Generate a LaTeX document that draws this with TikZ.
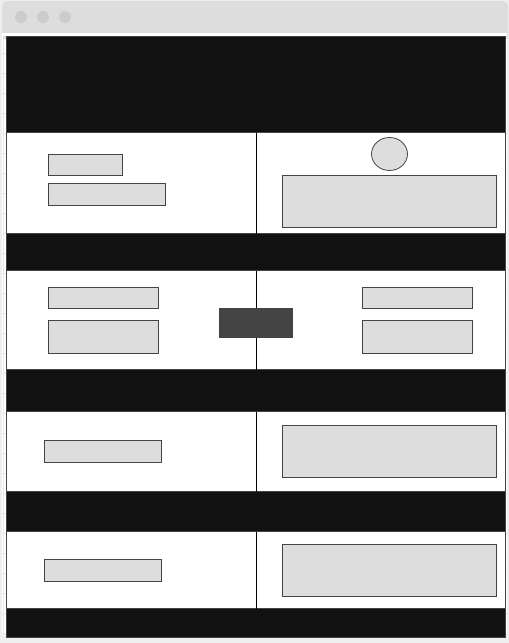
\documentclass[tikz,border=0pt]{standalone}
\usetikzlibrary{shapes.geometric}
\definecolor{pagebg}{HTML}{EEEEEE}
\definecolor{barbg}{HTML}{DDDDDD}
\definecolor{dotc}{HTML}{CCCCCC}
\definecolor{gridc}{HTML}{E8E8E8}
\definecolor{blk}{HTML}{111111}
\definecolor{edge}{HTML}{444444}
\definecolor{boxfill}{HTML}{DDDDDD}
\tikzset{
  px/.style={x=1pt,y=-1pt},
  box/.style={draw=edge, fill=boxfill, line width=1pt, inner sep=0pt, outer sep=0pt, anchor=north west},
  darkbox/.style={fill=edge, draw=none, inner sep=0pt, outer sep=0pt, anchor=north west},
  band/.style={fill=blk, draw=edge, line width=1pt},
  cell/.style={fill=white, draw=edge, line width=1pt},
  dot/.style={circle, fill=dotc, draw=none, minimum size=12pt, inner sep=0pt},
  oval/.style={ellipse, draw=edge, fill=boxfill, line width=0.8pt, minimum width=36pt, minimum height=33pt, inner sep=0pt},
  divider/.style={draw=black, line width=1pt}
}
\begin{document}
\begin{tikzpicture}[px]
\useasboundingbox (0,0) rectangle (509,643);
\fill[pagebg] (0,0) rectangle (509,643);
% window body
\fill[white] (2,33) rectangle (507,634);
% faint grid
\begin{scope}
\clip (2,33) rectangle (507,634);
\foreach \gx in {3,23,...,503} \draw[gridc, line width=0.6pt] (\gx,33) -- (\gx,634);
\foreach \gy in {33,53,...,633} \draw[gridc, line width=0.6pt] (2,\gy) -- (507,\gy);
\end{scope}
% title bar
\fill[barbg, rounded corners=5pt] (2,1) rectangle (508,40);
\fill[barbg] (2,25) rectangle (508,33);
\fill[white] (2,33) rectangle (507,36);
\node[dot] (d1) at (21,17) {};
\node[dot] (d2) at (43,17) {};
\node[dot] (d3) at (65,17) {};
% main frame
\draw[band] (6.5,36.5) rectangle (505.5,637.5);
% white rows
\draw[cell] (6.5,132.5) rectangle (505.5,233.5);
\draw[cell] (6.5,270.5) rectangle (505.5,369.5);
\draw[cell] (6.5,411.5) rectangle (505.5,491.5);
\draw[cell] (6.5,531.5) rectangle (505.5,608.5);
% vertical dividers
\coordinate (v1t) at (256.5,132.5); \coordinate (v1b) at (256.5,233.5);
\coordinate (v2t) at (256.5,270.5); \coordinate (v2b) at (256.5,369.5);
\coordinate (v3t) at (256.5,411.5); \coordinate (v3b) at (256.5,491.5);
\coordinate (v4t) at (256.5,531.5); \coordinate (v4b) at (256.5,608.5);
\draw[divider] (v1t) -- (v1b);
\draw[divider] (v2t) -- (v2b);
\draw[divider] (v3t) -- (v3b);
\draw[divider] (v4t) -- (v4b);
% row 1
\node[box, minimum width=74pt, minimum height=21pt] (r1a) at (48.5,154.5) {};
\node[box, minimum width=117pt, minimum height=22pt] (r1b) at (48.5,183.5) {};
\node[oval] (r1c) at (389.5,154) {};
\node[box, minimum width=214pt, minimum height=52pt] (r1d) at (282.5,175.5) {};
% row 2
\node[box, minimum width=110pt, minimum height=21pt] (r2a) at (48.5,287.5) {};
\node[box, minimum width=110pt, minimum height=33pt] (r2b) at (48.5,320.5) {};
\node[darkbox, minimum width=74pt, minimum height=30pt] (r2c) at (219,308) {};
\node[box, minimum width=110pt, minimum height=21pt] (r2d) at (362.5,287.5) {};
\node[box, minimum width=110pt, minimum height=33pt] (r2e) at (362.5,320.5) {};
% row 3
\node[box, minimum width=117pt, minimum height=22pt] (r3a) at (44.5,440.5) {};
\node[box, minimum width=214pt, minimum height=52pt] (r3b) at (282.5,425.5) {};
% row 4
\node[box, minimum width=117pt, minimum height=22pt] (r4a) at (44.5,559.5) {};
\node[box, minimum width=214pt, minimum height=52pt] (r4b) at (282.5,544.5) {};
\end{tikzpicture}
\end{document}
